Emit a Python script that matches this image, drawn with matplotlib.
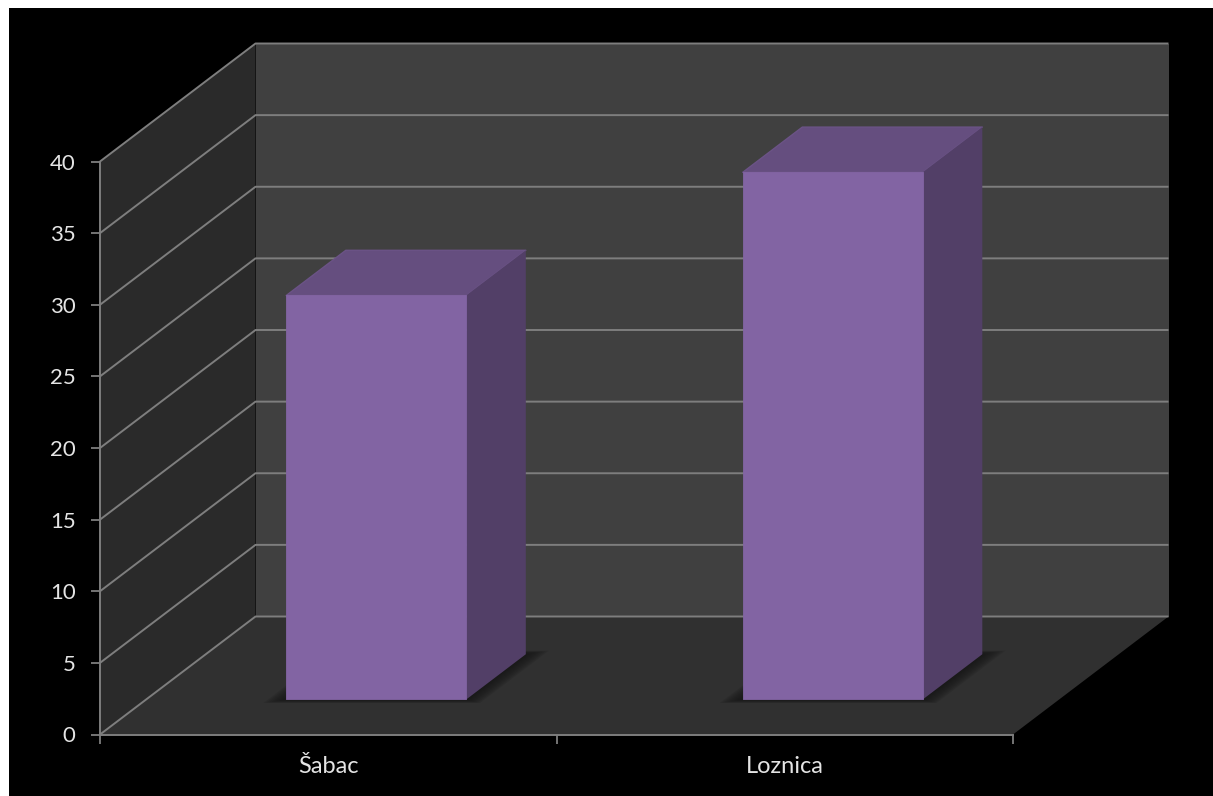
# 3D style column chart drawn on a flat axes with an oblique depth offset
import matplotlib
matplotlib.use("Agg")
import matplotlib.pyplot as plt
from matplotlib.patches import Polygon, Rectangle

categories = ['Šabac', 'Loznica']
values = [28.2, 36.8]
y_ticks = [0, 5, 10, 15, 20, 25, 30, 35, 40]

W, H = 1213, 796

# depth offset of the back wall in data units (155.5 px right, 118 px up)
DX = 155.5 / 913 * 2
DY = 118 / 573 * 40

plt.rcParams['font.family'] = ['Lato', 'DejaVu Sans']

fig = plt.figure(figsize=(W / 100, H / 100), dpi=100, facecolor='white')
fig.add_artist(Rectangle((9 / W, 0), 1 - 9 / W, 1 - 8 / H, transform=fig.transFigure,
                         facecolor='black', edgecolor='none', zorder=-5))

ax = fig.add_axes([100 / W, (H - 734.5) / H, 913 / W, 573 / H])
ax.patch.set_visible(False)
ax.set_xlim(0, 2)
ax.set_ylim(0, 40)


def pt(x, y, d):
    return (x + d * DX, y + d * DY)


def poly(pts, color, z, alpha=1.0, edge='none', lw=0):
    ax.add_patch(Polygon(pts, closed=True, facecolor=color, edgecolor=edge, linewidth=lw,
                         alpha=alpha, zorder=z, clip_on=False, joinstyle='round'))


# walls and floor
poly([pt(0, 0, 0), pt(0, 40, 0), pt(0, 40, 1), pt(0, 0, 1)], '#2a2a2a', 1)
poly([pt(0, 0, 1), pt(0, 40, 1), pt(2, 40, 1), pt(2, 0, 1)], '#404040', 1)
poly([pt(0, 0, 0), pt(0, 0, 1), pt(2, 0, 1), pt(2, 0, 0)], '#303030', 1)

# gridlines
GRID = '#7e7e7e'
for v in y_ticks:
    xs, ys = zip(pt(0, v, 0), pt(0, v, 1), pt(2, v, 1))
    ax.plot(xs, ys, color=GRID, lw=1.4, zorder=2, clip_on=False, solid_capstyle='butt')

# bars
bar_w = 180 / 456.5
d0, d1 = 0.297, 0.68
for i, val in enumerate(values):
    left = i + 0.504 - bar_w / 2
    right = left + bar_w
    # soft shadow on the floor
    for k in range(8):
        e = 0.04 * (8 - k) / 8
        de = 0.03 * (8 - k) / 8
        poly([pt(left - e, 0, d0 - de), pt(right + e, 0, d0 - de),
              pt(right + e, 0, d1 + de), pt(left - e, 0, d1 + de)], '#141414', 3, alpha=0.15)
    poly([pt(left, val, d0), pt(right, val, d0), pt(right, val, d1), pt(left, val, d1)],
         '#654e7f', 4, edge='#6b5386', lw=1.0)
    poly([pt(right, 0, d0), pt(right, val, d0), pt(right, val, d1), pt(right, 0, d1)],
         '#523f67', 4)
    poly([pt(left, 0, d0), pt(right, 0, d0), pt(right, val, d0), pt(left, val, d0)],
         '#8264a3', 5, edge='#8264a3', lw=0.6)

# axes lines and ticks
for s in ['top', 'right']:
    ax.spines[s].set_visible(False)
for s in ['left', 'bottom']:
    ax.spines[s].set_color(GRID)
    ax.spines[s].set_linewidth(1.4)
    ax.spines[s].set_zorder(6)

ax.set_yticks(y_ticks)
ax.set_xticks([0, 1, 2])
ax.set_xticklabels([])
ax.set_xticks([0.5, 1.5], minor=True)
ax.set_xticklabels(categories, minor=True)
ax.tick_params(axis='y', length=6.5, width=1.3, color=GRID, labelcolor='#e4e4e4',
               labelsize=16, pad=11)
ax.tick_params(axis='x', which='major', length=6.5, width=1.3, color=GRID, direction='out')
ax.tick_params(axis='x', which='minor', length=0, labelcolor='#e4e4e4', labelsize=17, pad=15.5)

fig.savefig('out.png', dpi=100, facecolor=fig.get_facecolor())
